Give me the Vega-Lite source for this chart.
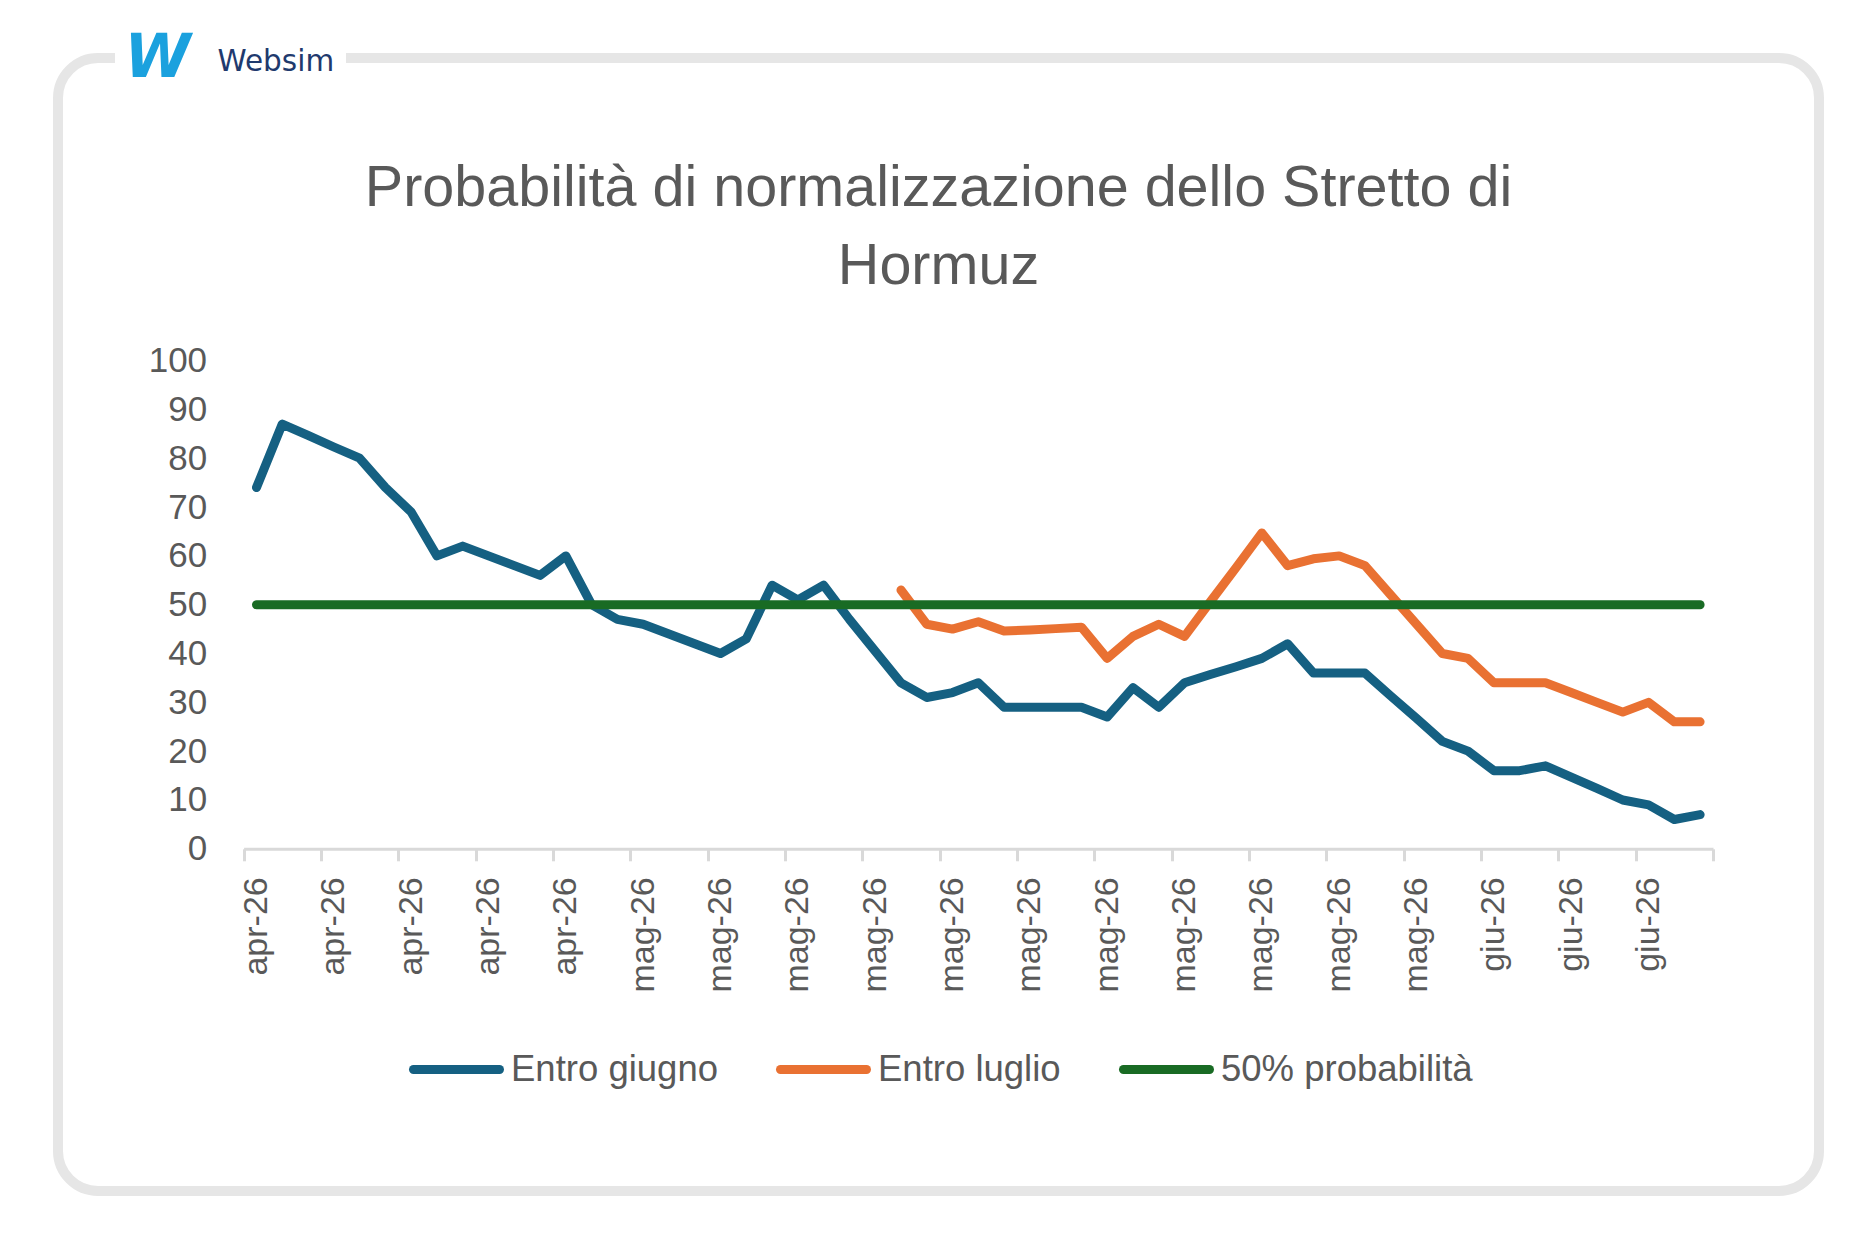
{
  "$schema": "https://vega.github.io/schema/vega-lite/v6.json",
  "autosize": {"type": "none"},
  "padding": {"left": 58, "top": 58, "right": 57, "bottom": 57},
  "width": 1761,
  "height": 1133,
  "background": "#FFFFFF",
  "view": {"stroke": "#E6E6E6", "strokeWidth": 10, "cornerRadius": 40, "strokeDash": [17, 231, 10000, 1]},
  "title": {
    "text": ["Probabilità di normalizzazione dello Stretto di", "Hormuz"],
    "anchor": "middle",
    "frame": "group",
    "offset": -268,
    "font": "Liberation Sans",
    "fontSize": 57.5,
    "fontWeight": "normal",
    "color": "#595959",
    "lineHeight": 78
  },
  "data": {
    "values": [
      {"giorno": 0, "Entro giugno": 74, "50% probabilità": 50},
      {"giorno": 1, "Entro giugno": 87, "50% probabilità": 50},
      {"giorno": 2, "Entro giugno": 84.7, "50% probabilità": 50},
      {"giorno": 3, "Entro giugno": 82.3, "50% probabilità": 50},
      {"giorno": 4, "Entro giugno": 80, "50% probabilità": 50},
      {"giorno": 5, "Entro giugno": 74, "50% probabilità": 50},
      {"giorno": 6, "Entro giugno": 69, "50% probabilità": 50},
      {"giorno": 7, "Entro giugno": 60, "50% probabilità": 50},
      {"giorno": 8, "Entro giugno": 62, "50% probabilità": 50},
      {"giorno": 9, "Entro giugno": 60, "50% probabilità": 50},
      {"giorno": 10, "Entro giugno": 58, "50% probabilità": 50},
      {"giorno": 11, "Entro giugno": 56, "50% probabilità": 50},
      {"giorno": 12, "Entro giugno": 60, "50% probabilità": 50},
      {"giorno": 13, "Entro giugno": 50, "50% probabilità": 50},
      {"giorno": 14, "Entro giugno": 47, "50% probabilità": 50},
      {"giorno": 15, "Entro giugno": 46, "50% probabilità": 50},
      {"giorno": 16, "Entro giugno": 44, "50% probabilità": 50},
      {"giorno": 17, "Entro giugno": 42, "50% probabilità": 50},
      {"giorno": 18, "Entro giugno": 40, "50% probabilità": 50},
      {"giorno": 19, "Entro giugno": 43, "50% probabilità": 50},
      {"giorno": 20, "Entro giugno": 54, "50% probabilità": 50},
      {"giorno": 21, "Entro giugno": 51, "50% probabilità": 50},
      {"giorno": 22, "Entro giugno": 54, "50% probabilità": 50},
      {"giorno": 23, "Entro giugno": 47, "50% probabilità": 50},
      {"giorno": 24, "Entro giugno": 40.5, "50% probabilità": 50},
      {"giorno": 25, "Entro giugno": 34, "Entro luglio": 53, "50% probabilità": 50},
      {"giorno": 26, "Entro giugno": 31, "Entro luglio": 46, "50% probabilità": 50},
      {"giorno": 27, "Entro giugno": 32, "Entro luglio": 45, "50% probabilità": 50},
      {"giorno": 28, "Entro giugno": 34, "Entro luglio": 46.5, "50% probabilità": 50},
      {"giorno": 29, "Entro giugno": 29, "Entro luglio": 44.6, "50% probabilità": 50},
      {"giorno": 30, "Entro giugno": 29, "Entro luglio": 44.8, "50% probabilità": 50},
      {"giorno": 31, "Entro giugno": 29, "Entro luglio": 45.1, "50% probabilità": 50},
      {"giorno": 32, "Entro giugno": 29, "Entro luglio": 45.4, "50% probabilità": 50},
      {"giorno": 33, "Entro giugno": 27, "Entro luglio": 39, "50% probabilità": 50},
      {"giorno": 34, "Entro giugno": 33, "Entro luglio": 43.5, "50% probabilità": 50},
      {"giorno": 35, "Entro giugno": 29, "Entro luglio": 46, "50% probabilità": 50},
      {"giorno": 36, "Entro giugno": 34, "Entro luglio": 43.5, "50% probabilità": 50},
      {"giorno": 37, "Entro giugno": 35.7, "Entro luglio": 50.6, "50% probabilità": 50},
      {"giorno": 38, "Entro giugno": 37.3, "Entro luglio": 57.6, "50% probabilità": 50},
      {"giorno": 39, "Entro giugno": 39, "Entro luglio": 64.7, "50% probabilità": 50},
      {"giorno": 40, "Entro giugno": 42, "Entro luglio": 58, "50% probabilità": 50},
      {"giorno": 41, "Entro giugno": 36, "Entro luglio": 59.4, "50% probabilità": 50},
      {"giorno": 42, "Entro giugno": 36, "Entro luglio": 60, "50% probabilità": 50},
      {"giorno": 43, "Entro giugno": 36, "Entro luglio": 58, "50% probabilità": 50},
      {"giorno": 44, "Entro giugno": 31.3, "Entro luglio": 52, "50% probabilità": 50},
      {"giorno": 45, "Entro giugno": 26.7, "Entro luglio": 46, "50% probabilità": 50},
      {"giorno": 46, "Entro giugno": 22, "Entro luglio": 40, "50% probabilità": 50},
      {"giorno": 47, "Entro giugno": 20, "Entro luglio": 39, "50% probabilità": 50},
      {"giorno": 48, "Entro giugno": 16, "Entro luglio": 34, "50% probabilità": 50},
      {"giorno": 49, "Entro giugno": 16, "Entro luglio": 34, "50% probabilità": 50},
      {"giorno": 50, "Entro giugno": 17, "Entro luglio": 34, "50% probabilità": 50},
      {"giorno": 51, "Entro giugno": 14.7, "Entro luglio": 32, "50% probabilità": 50},
      {"giorno": 52, "Entro giugno": 12.4, "Entro luglio": 30, "50% probabilità": 50},
      {"giorno": 53, "Entro giugno": 10, "Entro luglio": 28, "50% probabilità": 50},
      {"giorno": 54, "Entro giugno": 9, "Entro luglio": 30, "50% probabilità": 50},
      {"giorno": 55, "Entro giugno": 6, "Entro luglio": 26, "50% probabilità": 50},
      {"giorno": 56, "Entro giugno": 7, "Entro luglio": 26, "50% probabilità": 50}
    ]
  },
  "transform": [
    {"fold": ["Entro giugno", "Entro luglio", "50% probabilità"], "as": ["serie", "valore"]}
  ],
  "encoding": {
    "x": {
      "field": "giorno",
      "type": "quantitative",
      "scale": {"domain": [-0.5, 56.5], "range": [185.6, 1655], "nice": false, "zero": false},
      "axis": {
        "grid": false,
        "offset": -342.2,
        "values": [-0.5, 0, 2.5, 3, 5.5, 6, 8.5, 9, 11.5, 12, 14.5, 15, 17.5, 18, 20.5, 21, 23.5, 24, 26.5, 27, 29.5, 30, 32.5, 33, 35.5, 36, 38.5, 39, 41.5, 42, 44.5, 45, 47.5, 48, 50.5, 51, 53.5, 54, 56.5],
        "labelExpr": "datum.value % 1 ? '' : ['gen','feb','mar','apr','mag','giu','lug','ago','set','ott','nov','dic'][month(datetime(2026, 3, 16 + datum.value))] + '-' + timeFormat(datetime(2026, 3, 16 + datum.value), '%y')",
        "labelAngle": -90,
        "labelFont": "Liberation Sans",
        "labelFontSize": 34,
        "labelColor": "#595959",
        "labelPadding": 16,
        "labelOverlap": false,
        "labelFlush": false,
        "labelBound": false,
        "domainColor": "#D9D9D9",
        "domainWidth": 3,
        "tickColor": "#D9D9D9",
        "tickWidth": 3,
        "tickSize": 12,
        "tickOpacity": {"condition": {"test": "datum.value % 1 === 0", "value": 0}, "value": 1},
        "title": "W",
        "titleX": 66,
        "titleY": -772,
        "titleAlign": "left",
        "titleBaseline": "alphabetic",
        "titleAngle": 0,
        "titleFont": "DejaVu Sans",
        "titleFontSize": 60,
        "titleFontWeight": "bold",
        "titleFontStyle": "italic",
        "titleColor": "#1BA1DE"
      }
    },
    "y": {
      "field": "valore",
      "type": "quantitative",
      "scale": {"domain": [0, 100], "range": [790.8, 302.6], "nice": false},
      "axis": {
        "values": [0, 10, 20, 30, 40, 50, 60, 70, 80, 90, 100],
        "grid": false,
        "domain": false,
        "ticks": false,
        "tickSize": 0,
        "offset": -185.6,
        "labelFont": "Liberation Sans",
        "labelFontSize": 35,
        "labelColor": "#595959",
        "labelPadding": 37,
        "title": "Websim",
        "titleAngle": 0,
        "titleX": -26.6,
        "titleY": 12,
        "titleAlign": "left",
        "titleBaseline": "alphabetic",
        "titleFont": "DejaVu Sans",
        "titleFontSize": 29.5,
        "titleFontWeight": 500,
        "titleColor": "#1F3A6E"
      }
    },
    "color": {
      "field": "serie",
      "type": "nominal",
      "scale": {
        "domain": ["Entro giugno", "Entro luglio", "50% probabilità"],
        "range": ["#156082", "#E97132", "#196B24"]
      },
      "legend": {
        "title": null,
        "orient": "none",
        "legendX": 351,
        "legendY": 964,
        "direction": "horizontal",
        "padding": 0,
        "symbolType": "stroke",
        "symbolSize": 7396,
        "symbolStrokeWidth": 9,
        "labelFont": "Liberation Sans",
        "labelFontSize": 36.5,
        "labelColor": "#595959",
        "labelOffset": 7,
        "labelLimit": 500,
        "columnPadding": 44,
        "encode": {"symbols": {"update": {"strokeCap": {"value": "round"}}}}
      }
    }
  },
  "layer": [
    {
      "transform": [{"filter": "datum.serie !== '50% probabilità'"}],
      "mark": {"type": "line", "strokeWidth": 9, "strokeCap": "round", "strokeJoin": "round", "clip": false}
    },
    {
      "transform": [{"filter": "datum.serie === '50% probabilità'"}],
      "mark": {"type": "line", "strokeWidth": 9, "strokeCap": "round", "strokeJoin": "round", "clip": false}
    }
  ]
}
